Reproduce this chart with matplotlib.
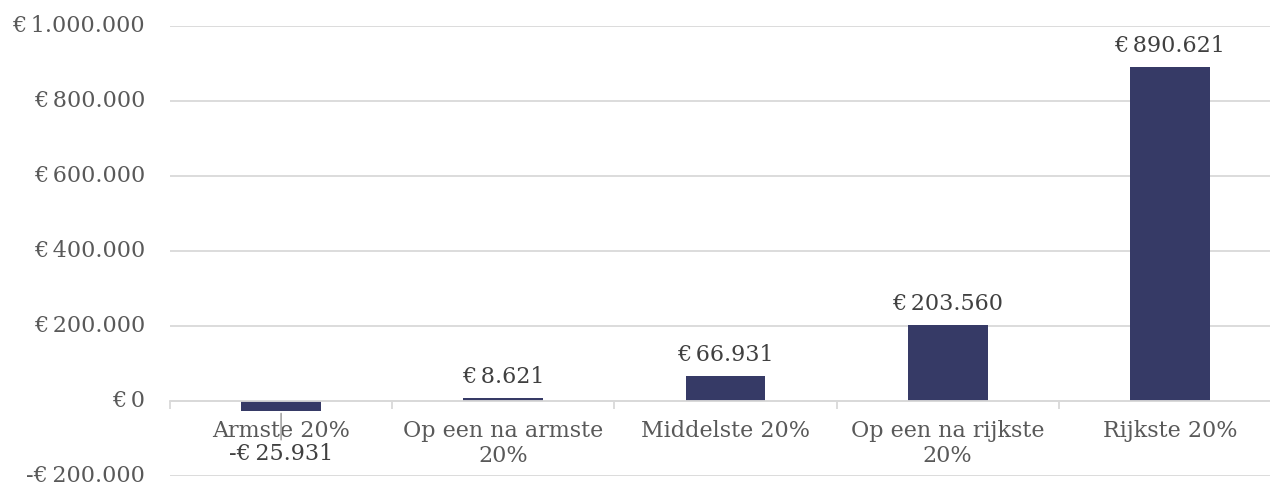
import matplotlib
matplotlib.use("Agg")
import matplotlib.pyplot as plt
import matplotlib.transforms as mtransforms
from matplotlib.ticker import FuncFormatter, FixedLocator

plt.rcParams["font.family"] = ["DejaVu Serif"]

# data
categories = ["Armste 20%", "Op een na armste\n20%", "Middelste 20%",
              "Op een na rijkste\n20%", "Rijkste 20%"]
values = [-25931, 8621, 66931, 203560, 890621]
y_ticks = [-200000, 0, 200000, 400000, 600000, 800000, 1000000]

BAR_COLOR = "#363a66"
GRID_COLOR = "#d9d9d9"
TICK_TEXT = "#595959"
LABEL_TEXT = "#404040"


def euro(v):
    s = "€\u2009" + f"{abs(int(v)):,}".replace(",", ".")
    return "-" + s if v < 0 else s


fig = plt.figure(figsize=(12.7, 4.85), dpi=100)
ax = fig.add_axes([170 / 1270, 8 / 485, 1111 / 1270, 450 / 485])

x = list(range(len(categories)))
ax.bar(x, values, width=0.36, color=BAR_COLOR, zorder=3)

ax.set_xlim(-0.5, len(categories) - 0.5)
ax.set_ylim(y_ticks[0], y_ticks[-1])
ax.set_yticks(y_ticks)
ax.yaxis.set_major_formatter(FuncFormatter(lambda v, p: euro(v)))
ax.grid(axis="y", color=GRID_COLOR, linewidth=1.3, zorder=0)
ax.tick_params(axis="y", length=0, pad=18, labelsize=16, labelcolor=TICK_TEXT)
# put the label baseline a bit under the gridline, like the original
shift = mtransforms.ScaledTranslation(0, -5 / 100, fig.dpi_scale_trans)
for tick in ax.yaxis.get_major_ticks():
    tick.label1.set_verticalalignment("baseline")
    tick.label1.set_transform(tick.label1.get_transform() + shift)

for side in ["top", "right", "left"]:
    ax.spines[side].set_visible(False)
ax.spines["bottom"].set_position(("data", 0))
ax.spines["bottom"].set_color(GRID_COLOR)
ax.spines["bottom"].set_linewidth(1.3)
ax.spines["bottom"].set_zorder(4)

ax.set_xticks(x)
ax.set_xticklabels(categories)
ax.xaxis.set_minor_locator(FixedLocator([i - 0.5 for i in range(len(categories) + 1)]))
ax.tick_params(axis="x", which="major", length=0, pad=13, labelsize=16,
               labelcolor=TICK_TEXT)
ax.tick_params(axis="x", which="minor", length=6, width=1.3, color=GRID_COLOR,
               direction="out")

# data labels
for xi, v in zip(x, values):
    if v >= 0:
        ax.annotate(euro(v), (xi, v), xytext=(0, 8), textcoords="offset points",
                    ha="center", va="bottom", fontsize=16, color=LABEL_TEXT)
    else:
        ax.annotate(euro(v), (xi, v), xytext=(xi, -140000), textcoords="data",
                    ha="center", va="center", fontsize=16, color=LABEL_TEXT,
                    arrowprops=dict(arrowstyle="-", color="#a6a6a6", lw=1.2,
                                    shrinkA=0, shrinkB=2))

fig.savefig("out.png", dpi=100)
